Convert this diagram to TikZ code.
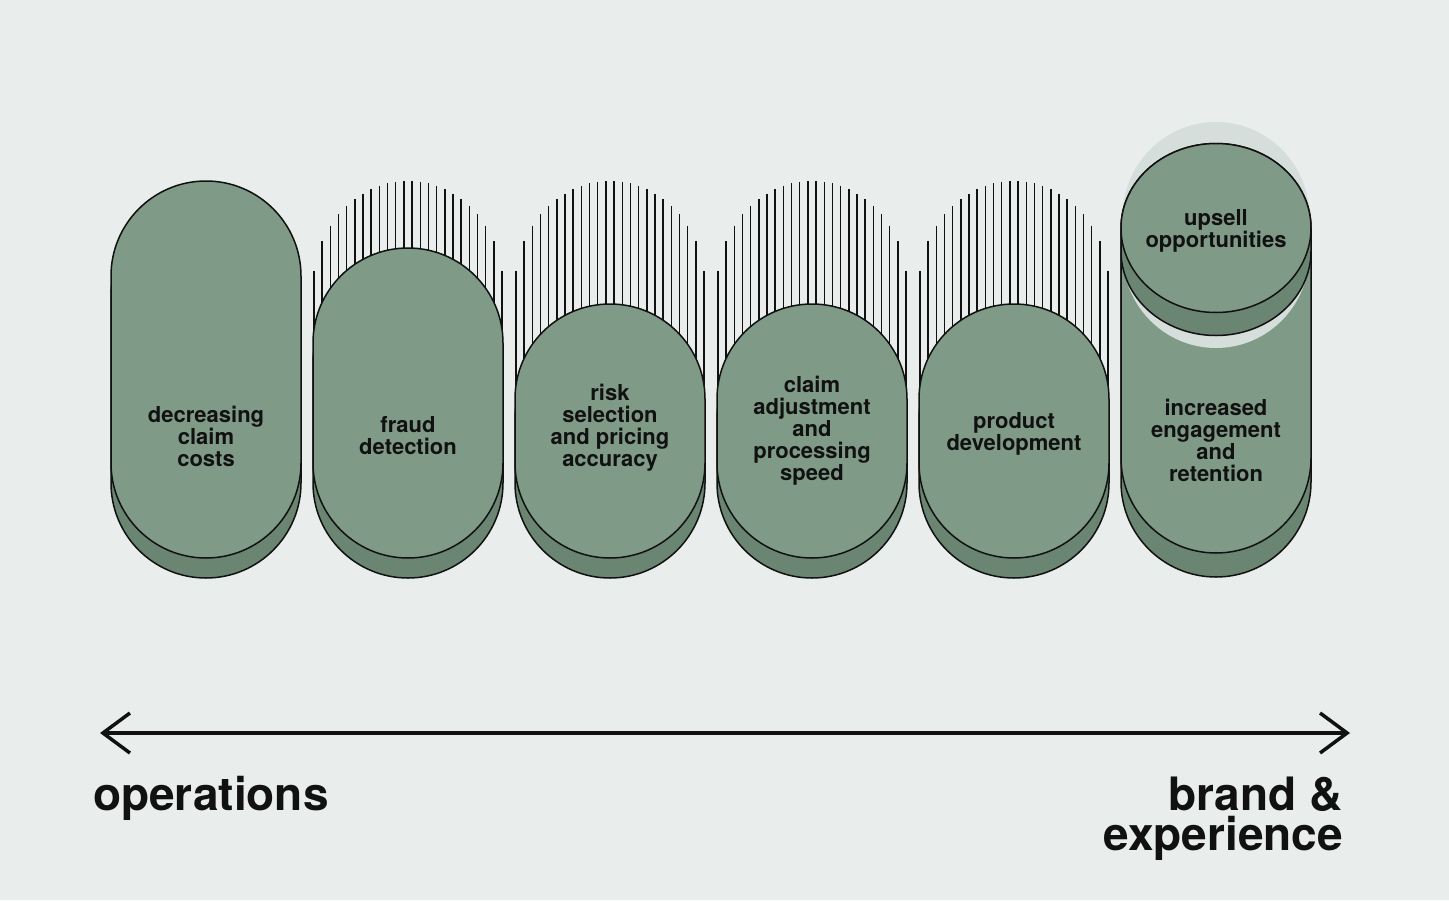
\documentclass[tikz,border=0pt]{standalone}
\usepackage{fontspec}
\setmainfont{TeX Gyre Heros}
\usetikzlibrary{arrows.meta}

\definecolor{paper}{HTML}{E9EDEC}
\definecolor{sage}{HTML}{7F9A87}
\definecolor{sagedark}{HTML}{6A8571}
\definecolor{halo}{HTML}{D5DEDB}
\definecolor{ink}{HTML}{111111}

\begin{document}
\begin{tikzpicture}[x=1pt,y=-1pt,
  pillface/.style={fill=sage,draw=ink,line width=1.5pt},
  pillback/.style={fill=sagedark,draw=ink,line width=1.5pt},
  hatchline/.style={draw=ink,line width=1.5pt},
  pilltext/.style={font=\bfseries\fontsize{22}{22}\selectfont,align=center,inner sep=0pt,text=ink},
  endtext/.style={font=\bfseries\fontsize{46}{40}\selectfont,inner sep=0pt,text=ink},
  axis/.style={draw=ink,line width=3.5pt,{Straight Barb[length=27pt,width=40pt]}-{Straight Barb[length=27pt,width=40pt]}}]
\useasboundingbox (0,0) rectangle (1449,900);
\fill[paper] (0,0) rectangle (1449,900);

% hatching behind pills 2-5
\foreach \cx in {408,610,812,1014} {
  \foreach \i in {0,...,23} {
    \pgfmathsetmacro\hx{\cx-94+\i*188/23}
    \pgfmathsetmacro\hy{286-105*sqrt(max(0,1-((\hx-\cx)/95)^2))}
    \draw[hatchline] (\hx,\hy) -- (\hx,410);
  }
}

% decreasing claim costs
\draw[pillback] (111,483) -- (111,296) arc[start angle=180,end angle=360,radius=95] -- (301,483) arc[start angle=0,end angle=180,radius=95] -- cycle;
\draw[pillface] (111,463) -- (111,276) arc[start angle=180,end angle=360,radius=95] -- (301,463) arc[start angle=0,end angle=180,radius=95] -- cycle;
\node[pilltext] (costs) at (206,436.5) {decreasing\\claim\\costs};

% fraud detection
\draw[pillback] (313,483) -- (313,363) arc[start angle=180,end angle=360,radius=95] -- (503,483) arc[start angle=0,end angle=180,radius=95] -- cycle;
\draw[pillface] (313,463) -- (313,343) arc[start angle=180,end angle=360,radius=95] -- (503,463) arc[start angle=0,end angle=180,radius=95] -- cycle;
\node[pilltext] (fraud) at (408,435.5) {fraud\\detection};

% risk selection
\draw[pillback] (515,483) -- (515,419) arc[start angle=180,end angle=360,radius=95] -- (705,483) arc[start angle=0,end angle=180,radius=95] -- cycle;
\draw[pillface] (515,463) -- (515,399) arc[start angle=180,end angle=360,radius=95] -- (705,463) arc[start angle=0,end angle=180,radius=95] -- cycle;
\node[pilltext] (risk) at (610,427.5) {risk\\selection\\and pricing\\accuracy};

% claim adjustment
\draw[pillback] (717,483) -- (717,419) arc[start angle=180,end angle=360,radius=95] -- (907,483) arc[start angle=0,end angle=180,radius=95] -- cycle;
\draw[pillface] (717,463) -- (717,399) arc[start angle=180,end angle=360,radius=95] -- (907,463) arc[start angle=0,end angle=180,radius=95] -- cycle;
\node[pilltext] (claims) at (812,431) {claim\\adjustment\\and\\processing\\speed};

% product development
\draw[pillback] (919,483) -- (919,419) arc[start angle=180,end angle=360,radius=95] -- (1109,483) arc[start angle=0,end angle=180,radius=95] -- cycle;
\draw[pillface] (919,463) -- (919,399) arc[start angle=180,end angle=360,radius=95] -- (1109,463) arc[start angle=0,end angle=180,radius=95] -- cycle;
\node[pilltext] (product) at (1014,434) {product\\development};

% engagement and retention, with upsell on top
\draw[pillback] (1121,482) -- (1121,264) arc[start angle=180,end angle=360,radius=95] -- (1311,482) arc[start angle=0,end angle=180,radius=95] -- cycle;
\draw[pillface] (1121,458) -- (1121,240) arc[start angle=180,end angle=360,radius=95] -- (1311,458) arc[start angle=0,end angle=180,radius=95] -- cycle;
\node[pilltext] (engage) at (1216,440) {increased\\engagement\\and\\retention};
\fill[halo] (1122.5,253) -- (1122.5,217) arc[start angle=180,end angle=360,x radius=93.5,y radius=95] -- (1309.5,253) arc[start angle=0,end angle=180,x radius=93.5,y radius=95] -- cycle;
\draw[pillback] (1121,228) -- (1121,251) arc[start angle=180,end angle=0,x radius=95,y radius=84.5] -- (1311,228) arc[start angle=0,end angle=-180,x radius=95,y radius=84.5] -- cycle;
\draw[pillface] (1216,228) ellipse[x radius=95,y radius=84.5];
\node[pilltext] (upsell) at (1216,231) {upsell\\opportunities};

% axis
\coordinate (opsTip) at (100,733);
\coordinate (brandTip) at (1350,733);
\draw[axis] (opsTip) -- (brandTip);
\node[endtext,anchor=base west] (opsLabel) at (93,810) {operations};
\node[endtext,align=right,anchor=east] (brandLabel) at (1343,819) {brand \&\\experience};
\end{tikzpicture}
\end{document}
